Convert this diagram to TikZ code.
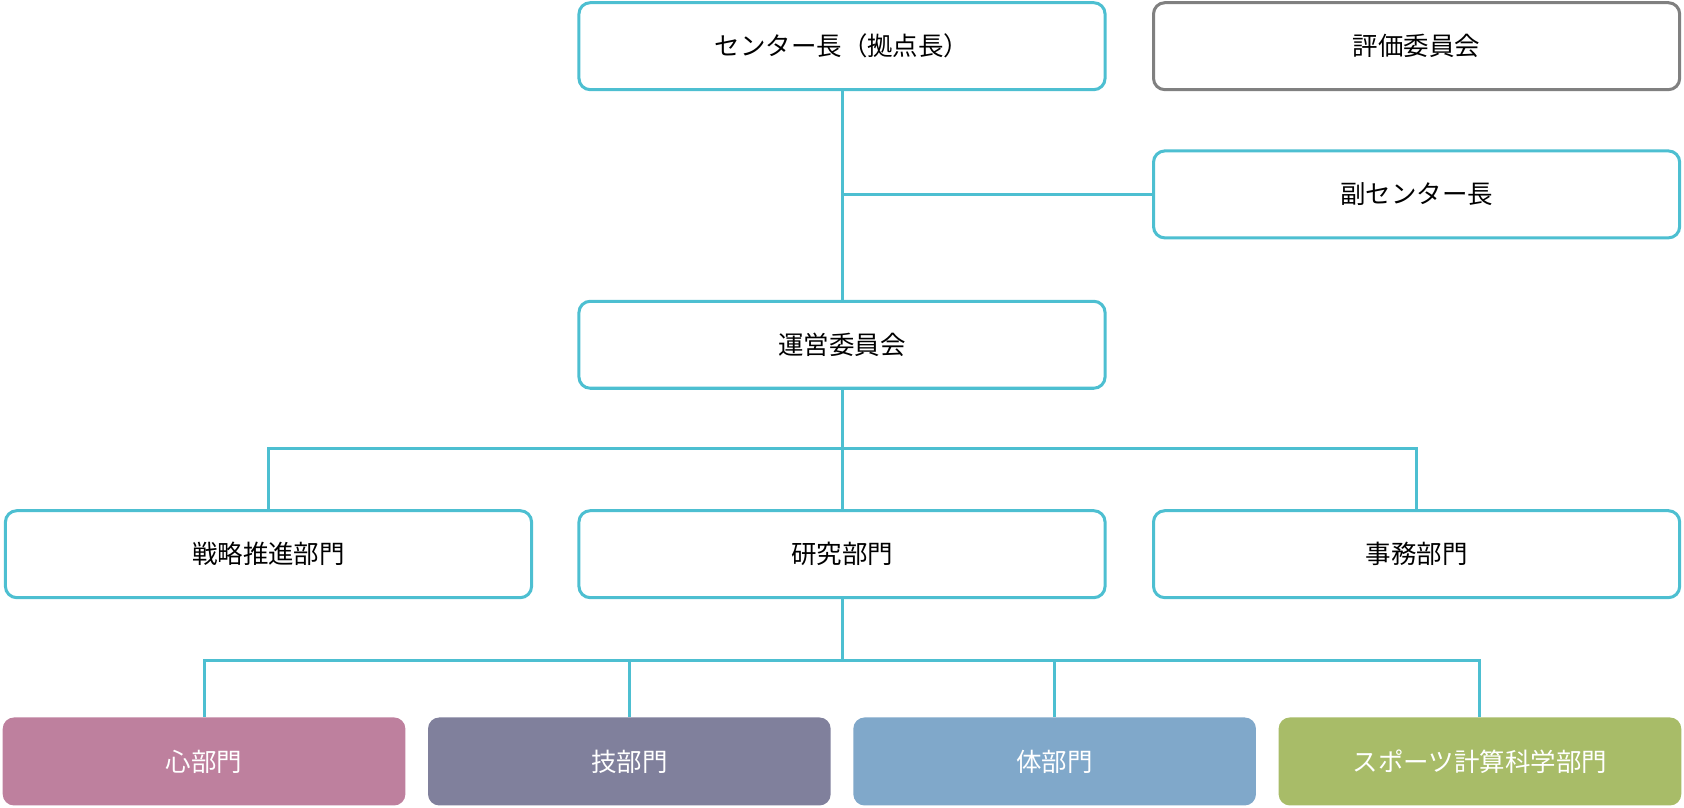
\documentclass[tikz,border=0pt]{standalone}
\usepackage{fontspec}
\setmainfont{Noto Sans CJK JP}
\definecolor{teal}{HTML}{4DBFD1}
\definecolor{kokoro}{HTML}{BE809E}
\definecolor{waza}{HTML}{80809C}
\definecolor{karada}{HTML}{80A8CA}
\definecolor{sports}{HTML}{A8BC68}
\tikzset{
  box/.style={draw=teal, line width=1.6pt, rounded corners=6pt, minimum width=9.8cm, minimum height=1.62cm, font=\fontsize{13.5}{16}\selectfont},
  graybox/.style={box, draw=black!50},
  unit/.style={rounded corners=6pt, minimum width=7.5cm, minimum height=1.64cm, text=white, font=\fontsize{13.5}{16}\selectfont},
  link/.style={teal, line width=1.6pt}
}
\begin{document}
\begin{tikzpicture}[x=0.02cm, y=-0.02cm]
\useasboundingbox (0,0) rectangle (1568,752);
% Leitung
\node[box] (chief) at (784,43) {センター長（拠点長）};
\node[graybox] (eval) at (1319,43) {評価委員会};
\node[box] (vice) at (1319,181) {副センター長};
\node[box] (mgmt) at (784,321) {運営委員会};

% Abteilungen
\node[box] (strat) at (250,516) {戦略推進部門};
\node[box] (res) at (784,516) {研究部門};
\node[box] (admin) at (1319,516) {事務部門};

% Forschungsbereiche
\node[unit, fill=kokoro] (mind) at (190,709) {心部門};
\node[unit, fill=waza] (tech) at (586,709) {技部門};
\node[unit, fill=karada] (body) at (982,709) {体部門};
\node[unit, fill=sports] (sci) at (1378,709) {スポーツ計算科学部門};

% Verbindungen
\draw[link] (chief) -- (mgmt);
\draw[link] (vice.west) -- (chief.south |- vice.west);
\draw[link] (mgmt) -- (res);
\draw[link] (strat.north) |- (784,418) -| (admin.north);
\foreach \n in {mind,tech,body,sci}
  \draw[link] (res.south) |- (784,615) -| (\n.north);
\draw[link] (res.south) -- (784,615) -| (mind.north);
\draw[link] (784,615) -| (sci.north);
\end{tikzpicture}
\end{document}
